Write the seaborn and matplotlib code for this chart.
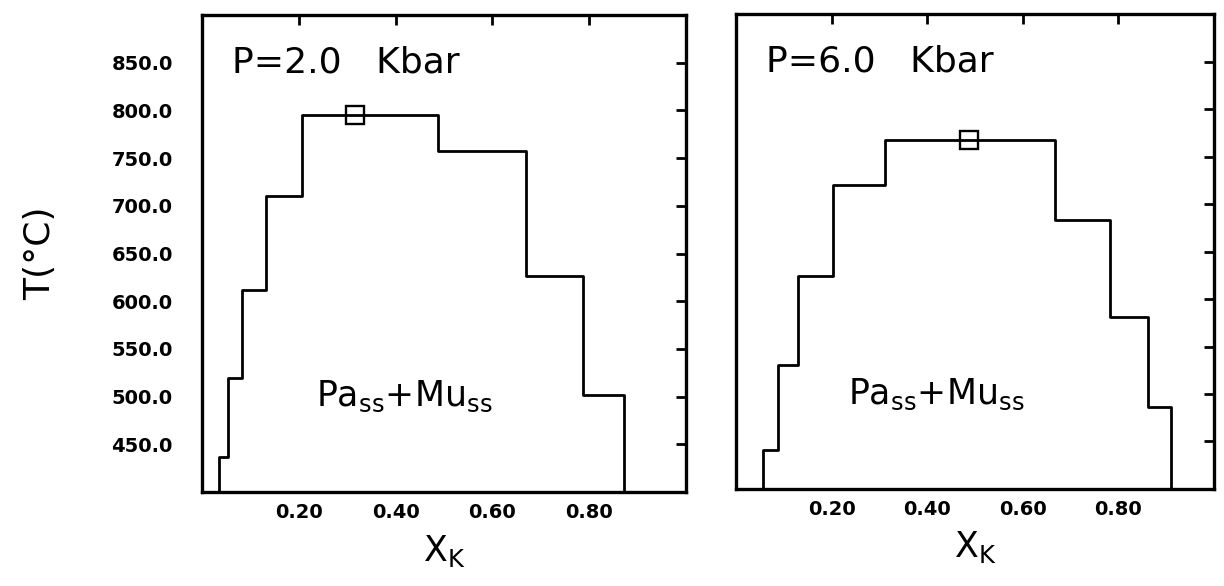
import matplotlib
matplotlib.use('Agg')
from matplotlib import pyplot as plt
import seaborn as sns

# step boundaries (X_K) and temperature of each step
xk_edges_2kbar = [0.035, 0.054, 0.083, 0.133, 0.206, 0.488, 0.669, 0.788, 0.871]
t_levels_2kbar = [437, 519, 612, 710, 795, 757, 626, 502]
peak_2kbar = [0.317, 795]

xk_edges_6kbar = [0.056, 0.087, 0.130, 0.203, 0.311, 0.667, 0.783, 0.861, 0.909]
t_levels_6kbar = [441, 530, 624, 720, 767, 683, 581, 486]
peak_6kbar = [0.487, 767]

panel_titles = ['P=2.0   Kbar', 'P=6.0   Kbar']
field_label = r'$\mathregular{Pa_{ss}{+}Mu_{ss}}$'

t_min, t_max = 400, 900
xk_min, xk_max = 0.0, 1.0
xticks = [0.2, 0.4, 0.6, 0.8]
xticklabels = ['0.20', '0.40', '0.60', '0.80']
yticks = [450, 500, 550, 600, 650, 700, 750, 800, 850]
yticklabels = ['450.0', '500.0', '550.0', '600.0', '650.0', '700.0', '750.0', '800.0', '850.0']

sns.set_style('white')
plt.rcParams['font.family'] = ['DejaVu Sans']
plt.rcParams['text.color'] = 'black'
plt.rcParams['axes.labelcolor'] = 'black'
plt.rcParams['xtick.color'] = 'black'
plt.rcParams['ytick.color'] = 'black'


def step_path(edges, levels, base):
    # outline of the stepped field, closed down to the bottom axis
    xs = [edges[0]]
    ys = [base]
    for i, t in enumerate(levels):
        xs += [edges[i], edges[i + 1]]
        ys += [t, t]
    xs.append(edges[-1])
    ys.append(base)
    return xs, ys


fig = plt.figure(figsize=(12.24, 5.86), dpi=100)
ax1 = fig.add_axes([202 / 1224, 94 / 586, 484 / 1224, 477 / 586])
ax2 = fig.add_axes([736 / 1224, 97 / 586, 478 / 1224, 475 / 586])

panels = [
    (ax1, xk_edges_2kbar, t_levels_2kbar, peak_2kbar, panel_titles[0]),
    (ax2, xk_edges_6kbar, t_levels_6kbar, peak_6kbar, panel_titles[1]),
]

for ax, edges, levels, peak, title in panels:
    xs, ys = step_path(edges, levels, t_min)
    sns.lineplot(x=xs, y=ys, sort=False, estimator=None, color='black',
                 lw=2.0, ax=ax)
    ax.plot([peak[0]], [peak[1]], marker='s', ms=13, mfc='none', mec='black',
            mew=1.7, ls='none')

    ax.set_xlim(xk_min, xk_max)
    ax.set_ylim(t_min, t_max)
    ax.set_xticks(xticks)
    ax.set_xticklabels(xticklabels)
    ax.set_yticks(yticks)
    ax.tick_params(direction='in', length=7, width=2, top=True, right=True,
                   labelsize=14, color='black', labelcolor='black')
    ax.tick_params(axis='x', pad=8)
    for lab in ax.get_xticklabels():
        lab.set_fontweight('bold')
    for sp in ax.spines.values():
        sp.set_linewidth(2.4)
        sp.set_color('black')

    ax.text(0.062, 850, title, fontsize=26, va='center', ha='left')
    ax.text(0.235, 500, field_label, fontsize=25, va='center', ha='left')

    ax.set_xlabel(r'$\mathregular{X_K}$', fontsize=25)
    ax.xaxis.set_label_coords(0.5, -0.085)

ax1.set_yticklabels(yticklabels, fontweight='bold')
ax1.tick_params(axis='y', pad=21)
ax1.set_ylabel('T(°C)', fontsize=26)
ax1.yaxis.set_label_coords(-0.30, 0.5)
ax2.set_yticklabels([])

fig.savefig('out.png', dpi=100, facecolor='white')
